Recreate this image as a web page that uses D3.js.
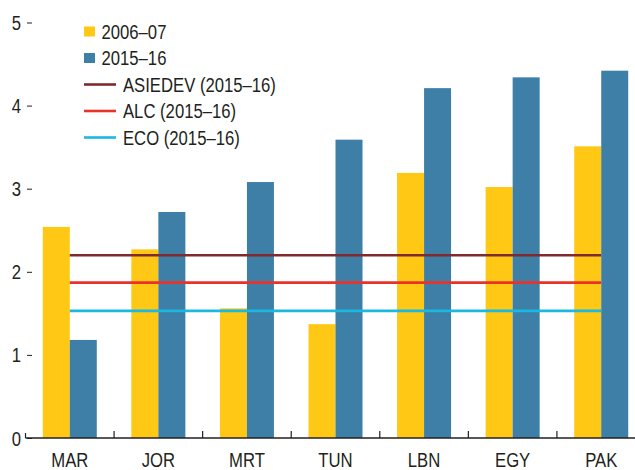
<!DOCTYPE html>
<meta charset="utf-8">
<script src="https://cdn.jsdelivr.net/npm/d3@7"></script>
<style>
    body { margin: 0; background: #fff; }
    svg { display: block; }
    text {
        fill: #231f20;
        font-family: "Liberation Sans", Arial, sans-serif;
        font-size: 19.5px;
    }
</style>
<body>
<script>
// data
var countries = ["MAR", "JOR", "MRT", "TUN", "LBN", "EGY", "PAK"];
var series = ["2006–07", "2015–16"];
var values0607 = [2.54, 2.27, 1.56, 1.37, 3.19, 3.02, 3.51];
var values1516 = [1.18, 2.72, 3.08, 3.59, 4.21, 4.34, 4.42];
var refNames = ["ASIEDEV (2015–16)", "ALC (2015–16)", "ECO (2015–16)"];
var refValues = [2.20, 1.87, 1.53];
var yTicks = [0, 1, 2, 3, 4, 5];

var barColors = ["#ffc815", "#3d7fa6"];
var refColors = ["#7f2a2e", "#e8322a", "#1bb8e0"];

var width = 635, height = 470;

var svg = d3.select("body").append("svg")
    .attr("width", width)
    .attr("height", height);

var x = d3.scaleBand()
    .domain(countries)
    .range([25.5, 645.5])
    .padding(0);

var barW = 27;
var xs = d3.scaleBand()
    .domain(series)
    .range([x.bandwidth() / 2 - barW, x.bandwidth() / 2 + barW]);

var y = d3.scaleLinear()
    .domain([0, 5])
    .range([438, 22.5]);

// bars
var rows = countries.map(function (c, i) {
    return { country: c, vals: [values0607[i], values1516[i]] };
});

var groups = svg.append("g")
    .selectAll("g")
    .data(rows)
    .enter()
    .append("g")
    .attr("transform", function (d) { return "translate(" + x(d.country) + ",0)"; });

groups.selectAll("rect")
    .data(function (d) { return d.vals.map(function (v, j) { return { s: series[j], v: v, j: j }; }); })
    .enter()
    .append("rect")
    .attr("x", function (d) { return xs(d.s); })
    .attr("width", xs.bandwidth())
    .attr("y", function (d) { return y(d.v); })
    .attr("height", function (d) { return y(0) - y(d.v); })
    .attr("fill", function (d) { return barColors[d.j]; });

// reference lines, first band centre to last band centre
var x0 = x(countries[0]) + x.bandwidth() / 2,
    x1 = x(countries[countries.length - 1]) + x.bandwidth() / 2;

svg.append("g")
    .selectAll("line")
    .data(refValues)
    .enter()
    .append("line")
    .attr("x1", x0)
    .attr("x2", x1)
    .attr("y1", function (d) { return y(d); })
    .attr("y2", function (d) { return y(d); })
    .attr("stroke", function (d, i) { return refColors[i]; })
    .attr("stroke-width", 2.6);

// y axis: short dashes, no domain line
var yAxis = svg.append("g")
    .attr("transform", "translate(32,0)")
    .call(d3.axisLeft(y).tickValues(yTicks).tickSize(5).tickPadding(6).tickFormat(d3.format("d")));
yAxis.select(".domain").remove();
yAxis.selectAll(".tick line").attr("stroke", "#231f20");
yAxis.selectAll("text")
    .attr("font-family", null)
    .attr("font-size", null)
    .attr("dy", "0.36em");

// x axis line and upward ticks on band boundaries
var xAxis = svg.append("g");
xAxis.append("line")
    .attr("x1", 25.5).attr("x2", width)
    .attr("y1", y(0)).attr("y2", y(0))
    .attr("stroke", "#231f20")
    .attr("stroke-width", 1.5);

var bounds = countries.map(function (c) { return x(c); });
xAxis.selectAll(".bt")
    .data(bounds)
    .enter()
    .append("line")
    .attr("class", "bt")
    .attr("x1", function (d) { return d; })
    .attr("x2", function (d) { return d; })
    .attr("y1", y(0))
    .attr("y2", function (d, i) { return i === 0 ? y(0) - 5 : y(0) - 7; })
    .attr("stroke", "#231f20")
    .attr("stroke-width", 1.2);

xAxis.selectAll(".xl")
    .data(countries)
    .enter()
    .append("text")
    .attr("class", "xl")
    .attr("x", function (d) { return x(d) + x.bandwidth() / 2; })
    .attr("y", 467)
    .attr("text-anchor", "middle")
    .text(function (d) { return d; });

// legend
var legend = svg.append("g");
var rowY = [31.5, 58, 84.5, 111, 137.5];

series.forEach(function (s, i) {
    legend.append("rect")
        .attr("x", 84).attr("y", rowY[i] - 5)
        .attr("width", 11).attr("height", 10)
        .attr("fill", barColors[i]);
    legend.append("text")
        .attr("x", 101.5).attr("y", rowY[i])
        .attr("dy", "0.36em")
        .text(s);
});

refNames.forEach(function (n, i) {
    var yy = rowY[i + 2];
    legend.append("line")
        .attr("x1", 84).attr("x2", 116)
        .attr("y1", yy).attr("y2", yy)
        .attr("stroke", refColors[i])
        .attr("stroke-width", 2.6);
    legend.append("text")
        .attr("x", 123).attr("y", yy)
        .attr("dy", "0.36em")
        .text(n);
});

// condensed look: squeeze every label horizontally
svg.selectAll("text").each(function () {
    var w = this.getComputedTextLength();
    d3.select(this)
        .attr("textLength", w * 0.855)
        .attr("lengthAdjust", "spacingAndGlyphs");
});
</script>
</body>
